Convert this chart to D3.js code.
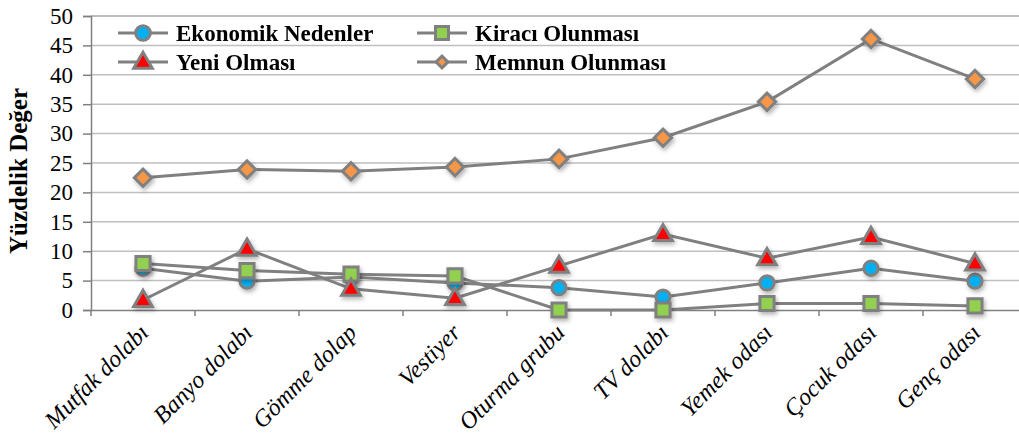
<!DOCTYPE html>
<html><head><meta charset="utf-8">
<script src="https://cdn.jsdelivr.net/npm/d3@7"></script>
<style>body{margin:0;background:#fff}svg{display:block}</style>
</head><body>
<svg id="c" width="1019" height="436"></svg>
<script>
const categories = ["Mutfak dolabı","Banyo dolabı","Gömme dolap","Vestiyer","Oturma grubu","TV dolabı","Yemek odası","Çocuk odası","Genç odası"];
const ekonomik = [7.1, 4.9, 5.6, 4.6, 3.8, 2.2, 4.6, 7.1, 4.9];
const kiraci   = [7.9, 6.7, 6.1, 5.8, 0.0, 0.0, 1.1, 1.1, 0.7];
const yeni     = [1.7, 10.4, 3.6, 2.0, 7.5, 12.9, 8.8, 12.4, 7.9];
const memnun   = [22.5, 23.9, 23.6, 24.3, 25.7, 29.3, 35.4, 46.1, 39.3];
const yTicks = [0,5,10,15,20,25,30,35,40,45,50];
const seriesNames = ["Ekonomik Nedenler","Kiracı Olunması","Yeni Olması","Memnun Olunması"];
const FONT = "Liberation Serif, Tinos, Times New Roman, DejaVu Serif, serif";

const series = [
  {name: seriesNames[0], values: ekonomik, shape: d3.symbolCircle, fill: "#00b0f0", size: 160, rot: 0, legSize: 170},
  {name: seriesNames[1], values: kiraci, shape: d3.symbolSquare, fill: "#92d050", size: 200, rot: 0, legSize: 170},
  {name: seriesNames[2], values: yeni, shape: d3.symbolTriangle, fill: "#ff0000", size: 150, rot: 0, legSize: 150},
  {name: seriesNames[3], values: memnun, shape: d3.symbolSquare, fill: "#f79646", size: 150, rot: 45, legSize: 70}
];

const svg = d3.select("#c");
const pLeft = 91, pRight = 1027, pTop = 16, pBottom = 310;
const x = d3.scaleBand().domain(categories).range([pLeft, pRight]);
const y = d3.scaleLinear().domain([0, 50]).range([pBottom, pTop]);
const grey = "#808080";

const defs = svg.append("defs");
const f = defs.append("filter").attr("id","sh").attr("x","-50%").attr("y","-50%").attr("width","200%").attr("height","200%");
f.append("feDropShadow").attr("dx",1.5).attr("dy",2.5).attr("stdDeviation",2).attr("flood-color","#000").attr("flood-opacity",0.3);

// gridlines
svg.append("g").selectAll("line").data(yTicks.filter(d=>d>0)).join("line")
  .attr("x1", pLeft).attr("x2", 1019).attr("y1", d=>y(d)).attr("y2", d=>y(d))
  .attr("stroke", d=> d===50 ? "#a6a6a6" : "#bfbfbf").attr("stroke-width", 1.5);

// y axis
const ya = svg.append("g").attr("transform", `translate(${pLeft},0)`)
  .call(d3.axisLeft(y).tickValues(yTicks).tickSize(8).tickPadding(10));
ya.attr("font-family", FONT);
ya.select(".domain").attr("stroke", grey).attr("stroke-width", 1.5);
ya.selectAll(".tick line").attr("stroke", grey).attr("stroke-width", 1.5);
ya.selectAll("text").attr("font-family", FONT).attr("font-size", 23).attr("fill", "#000");

// x axis
const xa = svg.append("g").attr("transform", `translate(0,${pBottom})`)
  .call(d3.axisBottom(x).tickSize(0).tickFormat(""));
xa.select(".domain").attr("stroke", grey).attr("stroke-width", 1.5);
const bounds = d3.range(categories.length + 1).map(i => pLeft + i * x.step());
xa.append("g").selectAll("line").data(bounds).join("line")
  .attr("x1", d=>d).attr("x2", d=>d).attr("y1", 0).attr("y2", 6)
  .attr("stroke", grey).attr("stroke-width", 1.5);
xa.append("g").selectAll("text").data(categories).join("text")
  .attr("transform", d => `translate(${x(d) + x.bandwidth()/2 + 7},${24}) rotate(-45)`)
  .attr("text-anchor", "end")
  .attr("font-family", FONT)
  .attr("font-style", "italic").attr("font-size", 24).attr("fill", "#000")
  .text(d => d);

// y title
svg.append("text").attr("transform", `translate(27,${(pTop+pBottom)/2 + 8}) rotate(-90)`)
  .attr("text-anchor", "middle")
  .attr("font-family", FONT)
  .attr("font-weight", "bold").attr("font-size", 25).text("Yüzdelik Değer");

const cx = d => x(d) + x.bandwidth()/2;
const line = d3.line().x(d => cx(d.c)).y(d => y(d.v));

// lines
series.forEach(s => {
  const pts = categories.map((c,i) => ({c, v: s.values[i]}));
  svg.append("path").datum(pts).attr("d", line).attr("fill","none")
    .attr("stroke", grey).attr("stroke-width", 3);
});
// markers
series.forEach(s => {
  const pts = categories.map((c,i) => ({c, v: s.values[i]}));
  const sym = d3.symbol().type(s.shape).size(s.size);
  svg.append("g").attr("filter","url(#sh)").selectAll("path").data(pts).join("path")
    .attr("transform", d => `translate(${cx(d.c)},${y(d.v) + (s.shape===d3.symbolTriangle ? 1 : 0)}) rotate(${s.rot})`)
    .attr("d", sym).attr("fill", s.fill).attr("stroke", grey).attr("stroke-width", 3);
});

// legend
const leg = [
  {s: series[0], x: 118, y: 33},
  {s: series[1], x: 417, y: 33},
  {s: series[2], x: 118, y: 62},
  {s: series[3], x: 417, y: 62}
];
leg.forEach(l => {
  const g = svg.append("g");
  g.append("line").attr("x1", l.x).attr("x2", l.x + 50).attr("y1", l.y).attr("y2", l.y)
    .attr("stroke", grey).attr("stroke-width", 3);
  g.append("path").attr("transform", `translate(${l.x+25},${l.y + (l.s.shape===d3.symbolTriangle?1:0)}) rotate(${l.s.rot})`)
    .attr("d", d3.symbol().type(l.s.shape).size(l.s.legSize))
    .attr("fill", l.s.fill).attr("stroke", grey).attr("stroke-width", 3);
  g.append("text").attr("x", l.x + 58).attr("y", l.y + 8)
    .attr("font-family", FONT)
    .attr("font-weight", "bold").attr("font-size", 23).text(l.s.name);
});
</script>
</body></html>
